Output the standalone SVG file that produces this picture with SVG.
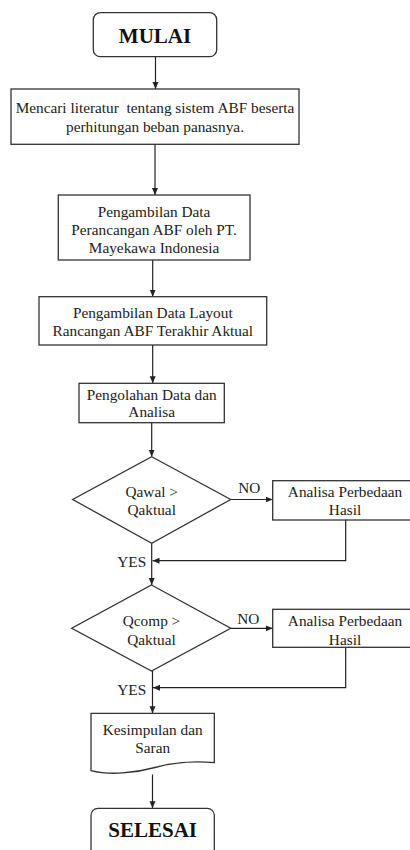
<svg xmlns="http://www.w3.org/2000/svg" width="410" height="850" viewBox="0 0 410 850">
<defs>
<marker id="arr" markerWidth="8" markerHeight="8" refX="7" refY="4" orient="auto" markerUnits="userSpaceOnUse">
<path d="M0,1 L7,4 L0,7 Z" fill="#222"/>
</marker>
<style>
.box{fill:#fff;stroke:#333;stroke-width:1.3}
.t{font-family:"Liberation Serif","Times New Roman",serif;font-size:15.3px;fill:#222;text-anchor:middle}
.tb{font-family:"Liberation Serif","Times New Roman",serif;font-size:21px;font-weight:bold;fill:#111;text-anchor:middle}
.c{fill:none;stroke:#222;stroke-width:1.2}
</style>
</defs>
<rect width="410" height="850" fill="#fff"/>
<g id="connectors">
<line class="c" x1="155.5" y1="56.7" x2="155.5" y2="89" marker-end="url(#arr)"/>
<line class="c" x1="155" y1="144.5" x2="155" y2="195" marker-end="url(#arr)"/>
<line class="c" x1="152.7" y1="260" x2="152.7" y2="296.7" marker-end="url(#arr)"/>
<line class="c" x1="152.7" y1="345" x2="152.7" y2="383.3" marker-end="url(#arr)"/>
<line class="c" x1="151.7" y1="422.7" x2="151.7" y2="456.7" marker-end="url(#arr)"/>
<line class="c" x1="230.7" y1="499.5" x2="272.7" y2="499.5" marker-end="url(#arr)"/>
<polyline class="c" points="345.7,520 345.7,560.7 152.5,560.7" marker-end="url(#arr)"/>
<line class="c" x1="151.7" y1="543.3" x2="151.7" y2="585" marker-end="url(#arr)"/>
<line class="c" x1="230.7" y1="628.3" x2="272.7" y2="628.3" marker-end="url(#arr)"/>
<polyline class="c" points="345.7,647.3 345.7,687.7 153,687.7" marker-end="url(#arr)"/>
<line class="c" x1="152.5" y1="671" x2="152.5" y2="713.3" marker-end="url(#arr)"/>
<line class="c" x1="152.5" y1="774.5" x2="152.5" y2="808.3" marker-end="url(#arr)"/>
<text class="t" x="249.3" y="493">NO</text>
<text class="t" x="131.7" y="567">YES</text>
<text class="t" x="248.3" y="623.5">NO</text>
<text class="t" x="131.7" y="695">YES</text>
</g>
<g id="mulai">
<rect class="box" x="93.3" y="12.7" width="123.4" height="44" rx="7"/>
<text class="tb" x="155" y="42.7">MULAI</text>
</g>
<g id="literatur">
<rect class="box" x="11" y="89" width="288" height="55.3"/>
<text class="t" x="155" y="113.3" xml:space="preserve">Mencari literatur  tentang sistem ABF beserta</text>
<text class="t" x="155" y="131.7">perhitungan beban panasnya.</text>
</g>
<g id="data-perancangan">
<rect class="box" x="58.3" y="195" width="191.7" height="65"/>
<text class="t" x="154" y="217.3">Pengambilan Data</text>
<text class="t" x="154" y="235">Perancangan ABF oleh PT.</text>
<text class="t" x="154" y="252.7">Mayekawa Indonesia</text>
</g>
<g id="data-layout">
<rect class="box" x="39" y="296.7" width="227.7" height="48.3"/>
<text class="t" x="152.8" y="317.5">Pengambilan Data Layout</text>
<text class="t" x="152.8" y="335.5">Rancangan ABF Terakhir Aktual</text>
</g>
<g id="pengolahan">
<rect class="box" x="79" y="383.3" width="145.3" height="39.4"/>
<text class="t" x="151.7" y="399.5">Pengolahan Data dan</text>
<text class="t" x="151.7" y="417.3">Analisa</text>
</g>
<g id="decision1">
<polygon class="box" points="151.7,456.7 230.7,499.5 151.7,543.3 72.7,499.5"/>
<text class="t" x="151.7" y="497">Qawal &gt;</text>
<text class="t" x="151.7" y="515">Qaktual</text>
</g>
<g id="analisa1">
<rect class="box" x="272.7" y="480.7" width="140" height="39.3"/>
<text class="t" x="345" y="497">Analisa Perbedaan</text>
<text class="t" x="345" y="515">Hasil</text>
</g>
<g id="decision2">
<polygon class="box" points="151.5,585 230.7,628.3 151.5,671 71.7,628.3"/>
<text class="t" x="151.5" y="626">Qcomp &gt;</text>
<text class="t" x="151.5" y="644.5">Qaktual</text>
</g>
<g id="analisa2">
<rect class="box" x="272.7" y="609.3" width="140" height="38"/>
<text class="t" x="345" y="625.5">Analisa Perbedaan</text>
<text class="t" x="345" y="644.5">Hasil</text>
</g>
<g id="kesimpulan">
<path class="box" d="M91,713.3 H214.3 V762.7 C195,761 175,762 155,767.5 C135,773 110,775.5 91,770.7 Z"/>
<text class="t" x="152.7" y="735">Kesimpulan dan</text>
<text class="t" x="152.7" y="752.5">Saran</text>
</g>
<g id="selesai">
<rect class="box" x="91" y="808.3" width="123.3" height="60" rx="7"/>
<text class="tb" x="152.7" y="837.3">SELESAI</text>
</g>
</svg>
